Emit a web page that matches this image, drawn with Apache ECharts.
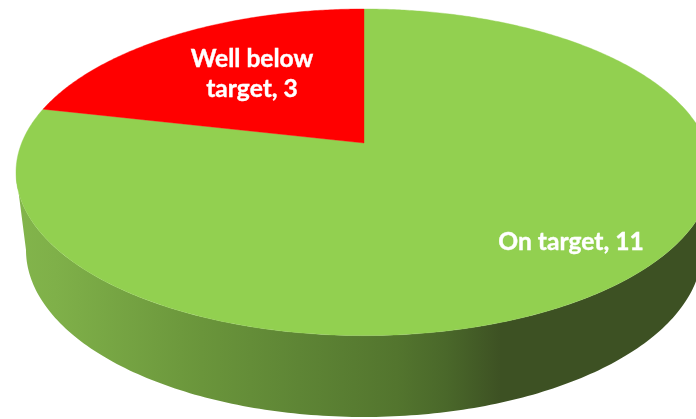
<!DOCTYPE html>
<html>
<head>
<meta charset="utf-8">
<style>html,body{margin:0;padding:0;background:#fff}#c{width:696px;height:419px}</style>
<script src="https://cdn.jsdelivr.net/npm/echarts@6/dist/echarts.min.js"></script>
</head>
<body>
<div id="c"></div>
<script>
const categories = ['On target', 'Well below target'];
const values = [11, 3];
const sliceColors = ['#92d050', '#ff0000'];

// Layout of the tilted disc, in pixels
const TOP = { cx: 364, cy: 172.3, rx: 348, ry: 163.3 };
const BOTTOM = { cx: 364, cy: 250, rx: 338, ry: 167 };
const APEX_Y = 143;
const LABEL_AT = [[571, 242], [252, 74]];

const total = values.reduce((a, b) => a + b, 0);
const persp = (TOP.cy - APEX_Y) / TOP.ry;

// Angle clockwise from the top of the disc -> screen point, with perspective
function project(deg) {
  const t = deg * Math.PI / 180, u = Math.sin(t), v = Math.cos(t);
  const w = 1 + persp * v;
  return [
    TOP.cx + TOP.rx * u * Math.sqrt(1 - persp * persp) / w,
    TOP.cy - TOP.ry * (v + persp) / w
  ];
}
function arc(e, from, to, step) {
  const pts = [];
  const n = Math.ceil(Math.abs(to - from) / step);
  for (let i = 0; i <= n; i++) {
    const t = (from + (to - from) * i / n) * Math.PI / 180;
    pts.push([e.cx + e.rx * Math.cos(t), e.cy + e.ry * Math.sin(t)]);
  }
  return pts;
}
function wallPoints() {
  return arc(TOP, 0, 180, 1).concat(arc(BOTTOM, 180, 0, 1));
}
const wallFill = {
  type: 'linear', x: 0, y: 0, x2: 696, y2: 0, global: true,
  colorStops: [
    { offset: 0.03, color: '#82b44b' },
    { offset: 0.08, color: '#7fb049' },
    { offset: 0.29, color: '#6a953b' },
    { offset: 0.43, color: '#5e8535' },
    { offset: 0.57, color: '#53752e' },
    { offset: 0.64, color: '#4a682a' },
    { offset: 0.72, color: '#3d5123' },
    { offset: 1, color: '#3d5123' }
  ]
};

function renderItem(params, api) {
  const i = params.dataIndex;
  const start = values.slice(0, i).reduce((a, b) => a + b, 0) / total * 360;
  const end = start + api.value(1) / total * 360;
  const pts = [[TOP.cx, APEX_Y]];
  for (let d = start; d < end; d += 0.5) pts.push(project(d));
  pts.push(project(end));
  const children = [];
  if (i === 0) {
    children.push({ type: 'polygon', shape: { points: wallPoints() }, style: { fill: wallFill, stroke: null } });
  }
  children.push({ type: 'polygon', shape: { points: pts }, style: { fill: sliceColors[i], stroke: sliceColors[i], lineWidth: 0.4 } });
  return { type: 'group', children };
}
function labelText(i, v) {
  // The narrow slice's label wraps before its last word, as in the reference
  const name = i === 1 ? categories[i].replace(/ (\S+)$/, '\n$1') : categories[i];
  return name + ', ' + v;
}
function renderLabel(params, api) {
  const i = params.dataIndex;
  return {
    type: 'text',
    x: LABEL_AT[i][0], y: LABEL_AT[i][1],
    style: {
      text: labelText(i, api.value(1)),
      x: 0, y: 0,
      align: 'center', verticalAlign: 'middle',
      fill: '#ffffff', stroke: '#ffffff', lineWidth: 0.4,
      fontFamily: 'Lato', fontWeight: 'bold', fontSize: 24.6, lineHeight: 30
    }
  };
}
const rows = categories.map((c, i) => [i, values[i]]);
const chart = echarts.init(document.getElementById('c'), null, { renderer: 'canvas' });
chart.setOption({
  animation: false,
  backgroundColor: '#ffffff',
  series: [
    { type: 'custom', coordinateSystem: 'none', renderItem, data: rows, silent: true, z: 1 },
    { type: 'custom', coordinateSystem: 'none', renderItem: renderLabel, data: rows, silent: true, z: 2 }
  ]
});
</script>
</body>
</html>
